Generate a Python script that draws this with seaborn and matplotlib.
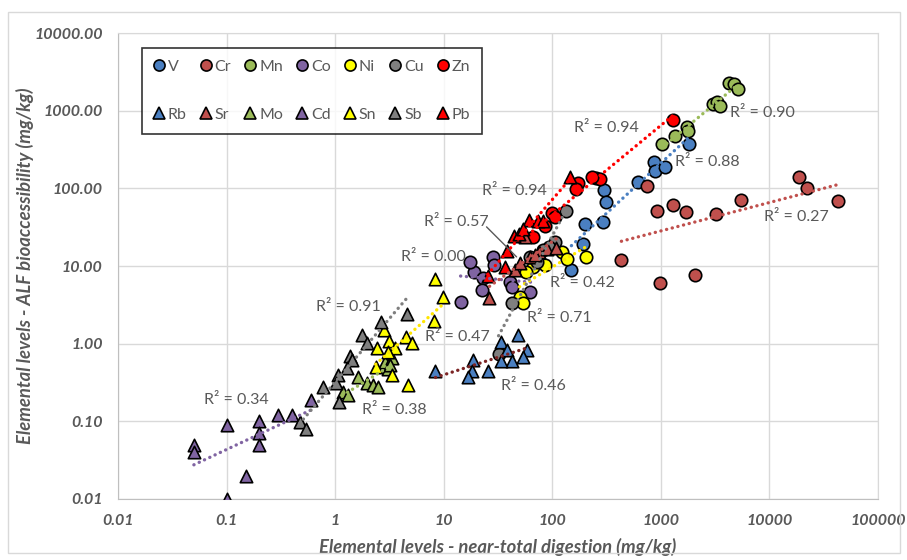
import numpy as np
import pandas as pd
import seaborn as sns
import matplotlib.pyplot as plt
from matplotlib.lines import Line2D
from matplotlib.patches import Rectangle

# near-total digestion (x) and ALF bioaccessible (y), mg/kg
v_x = [1830, 870, 890, 1100, 620, 300, 310, 200, 295, 190, 150]
v_y = [370, 220, 167, 188, 121, 95, 67, 35, 37, 19, 9]
cr_x = [751, 929, 1303, 1717, 433, 989, 2077, 3240, 5500, 18800, 22300, 43000]
cr_y = [107, 51, 61, 50, 12, 6.1, 7.7, 47, 71, 140, 101, 69]
mn_x = [4270, 4740, 5160, 3040, 3310, 3530, 1753, 1790, 1360, 1033]
mn_y = [2270, 2200, 1900, 1220, 1295, 1150, 617, 548, 472, 372]
co_x = [28.2, 28.8, 19.2, 22.8, 22.3, 14.3, 41.2, 43.0, 63.0, 17.3]
co_y = [13.1, 10.3, 8.4, 7.0, 4.9, 3.45, 6.2, 5.4, 4.6, 11.3]
ni_x = [122, 138, 206, 65.8, 56.7, 49.9, 53.2, 84.8]
ni_y = [15.2, 12.3, 13.1, 9.7, 8.4, 4.0, 3.35, 10.3]
cu_x = [135, 107, 94.2, 61.7, 71.6, 42.2, 32.0, 81.3]
cu_y = [51.2, 20.4, 17.6, 13.1, 11.3, 3.35, 0.74, 16.1]
zn_x = [1303, 255, 278, 234, 174, 167, 100, 107, 65.8, 84.8]
zn_y = [759, 136, 132, 140, 117, 98, 48, 43, 23.7, 32.8]
rb_x = [47.9, 33.4, 37.9, 57.9, 54.3, 42.2, 33.4, 18.5, 18.1, 16.9, 25.4, 8.4]
rb_y = [1.30, 1.05, 0.83, 0.83, 0.68, 0.60, 0.60, 0.61, 0.45, 0.37, 0.45, 0.45]
sr_x = [26.4, 44.9, 49.9, 61.7, 76.2, 90.3, 109, 55.5, 68.6]
sr_y = [3.9, 8.9, 11.0, 13.1, 15.2, 16.6, 17.0, 23.7, 14.0]
mo_x = [1.17, 1.61, 1.95, 2.22, 2.47, 2.86, 3.05, 3.32, 1.31, 3.18]
mo_y = [0.24, 0.37, 0.31, 0.29, 0.28, 0.58, 0.47, 0.66, 0.22, 0.53]
cd_x = [0.05, 0.05, 0.1, 0.1, 0.15, 0.2, 0.2, 0.2, 0.3, 0.4, 0.6]
cd_y = [0.05, 0.04, 0.09, 0.01, 0.02, 0.1, 0.07, 0.05, 0.12, 0.12, 0.19]
sn_x = [8.24, 9.77, 8.07, 4.46, 5.07, 2.80, 3.11, 2.41, 3.53, 3.05, 2.36, 3.32, 4.66]
sn_y = [6.8, 4.0, 1.96, 1.22, 1.02, 1.51, 1.08, 0.88, 0.88, 0.78, 0.50, 0.40, 0.29]
sb_x = [4.56, 2.63, 1.76, 1.95, 1.36, 1.42, 1.28, 1.06, 1.01, 0.77, 1.08, 0.47, 0.54]
sb_y = [2.42, 1.91, 1.30, 1.02, 0.70, 0.62, 0.49, 0.40, 0.31, 0.28, 0.18, 0.099, 0.080]
pb_x = [147, 60.4, 73.1, 81.3, 44.0, 48.9, 37.9, 36.3, 25.4, 54.3]
pb_y = [140, 39.2, 38.0, 38.0, 24.4, 25.9, 15.6, 9.7, 7.5, 30.0]

r2_text = {"V": "0.88", "Cr": "0.27", "Mn": "0.90", "Co": "0.00", "Ni": "0.42",
           "Cu": "0.71", "Zn": "0.94", "Rb": "0.46", "Sr": "0.57", "Mo": "0.38",
           "Cd": "0.34", "Sn": "0.47", "Sb": "0.91", "Pb": "0.94"}

series = [
    ("V", v_x, v_y, "o", "#4A7FC1", "#4A7FC1"),
    ("Cr", cr_x, cr_y, "o", "#C0504D", "#C0504D"),
    ("Mn", mn_x, mn_y, "o", "#9BBB59", "#9BBB59"),
    ("Co", co_x, co_y, "o", "#8064A2", "#8064A2"),
    ("Ni", ni_x, ni_y, "o", "#FFFF00", "#FFE600"),
    ("Cu", cu_x, cu_y, "o", "#7F7F7F", "#7F7F7F"),
    ("Zn", zn_x, zn_y, "o", "#FF0000", "#FF0000"),
    ("Rb", rb_x, rb_y, "^", "#4A7FC1", "#7B2424"),
    ("Sr", sr_x, sr_y, "^", "#C0504D", "#C0504D"),
    ("Mo", mo_x, mo_y, "^", "#9BBB59", "#9BBB59"),
    ("Cd", cd_x, cd_y, "^", "#8064A2", "#8064A2"),
    ("Sn", sn_x, sn_y, "^", "#FFFF00", "#FFE600"),
    ("Sb", sb_x, sb_y, "^", "#7F7F7F", "#7F7F7F"),
    ("Pb", pb_x, pb_y, "^", "#FF0000", "#FF0000"),
]

# where each R² label sits (data coords)
label_pos = {"Zn": (315, 599), "Pb": (44.9, 92.6), "Mn": (8590, 934), "V": (2680, 219),
             "Cr": (17650, 42.9), "Sr": (13.1, 37.0), "Co": (8.07, 13.1), "Ni": (190, 6.06),
             "Cu": (116, 2.15), "Sb": (1.33, 2.98), "Sn": (13.4, 1.22), "Rb": (67.2, 0.286),
             "Cd": (0.122, 0.189), "Mo": (3.53, 0.141)}

sns.set_style("white")
plt.rcParams['font.family'] = ['Lato', 'DejaVu Sans']
txt_col = "#595959"

fig = plt.figure(figsize=(9.07, 5.6), dpi=100)
fig.patches.append(Rectangle((8 / 907, 1 - 553 / 560), 892 / 907, 541 / 560,
                             transform=fig.transFigure, fill=False,
                             edgecolor="#D9D9D9", linewidth=1))
ax = fig.add_axes([118 / 907, 1 - 499 / 560, 760 / 907, 466 / 560])
ax.set_xscale("log")
ax.set_yscale("log")

for name, xs, ys, mk, col, lcol in series:
    df = pd.DataFrame({"x": xs, "y": ys})
    sns.scatterplot(data=df, x="x", y="y", marker=mk, color=col, edgecolor="black",
                    linewidth=1.2, s=80, ax=ax, zorder=3)
    # power trendline, fitted in log-log space over the data range
    lx, ly = np.log10(xs), np.log10(ys)
    b, a = np.polyfit(lx, ly, 1)
    xx = np.linspace(lx.min(), lx.max(), 50)
    ax.plot(10 ** xx, 10 ** (a + b * xx), linestyle=(0, (0.05, 1.7)), color=lcol,
            linewidth=2.4, dash_capstyle="round", zorder=4)
    px, py = label_pos[name]
    ax.text(px, py, "R² = " + r2_text[name], ha="center", va="center",
            fontsize=11.5, color=txt_col, zorder=5)

ax.plot([24.8, 46.9], [31.9, 13.1], color="#595959", linewidth=1, zorder=5)

ax.set_xlim(0.01, 100000)
ax.set_ylim(0.01, 10000)
xt = [0.01, 0.1, 1, 10, 100, 1000, 10000, 100000]
yt = [0.01, 0.1, 1, 10, 100, 1000, 10000]
ax.set_xticks(xt)
ax.set_xticklabels(["0.01", "0.1", "1", "10", "100", "1000", "10000", "100000"])
ax.set_yticks(yt)
ax.set_yticklabels([f"{v:.2f}" for v in yt])
ax.minorticks_off()
ax.tick_params(length=0, labelsize=11.5, labelcolor=txt_col, pad=11)
for lab in ax.get_xticklabels() + ax.get_yticklabels():
    lab.set_fontweight("bold")
    lab.set_fontstyle("italic")
ax.grid(True, which="major", color="#D9D9D9", linewidth=1)
for sp in ax.spines.values():
    sp.set_color("#D9D9D9")
ax.spines["left"].set_color("#BFBFBF")
ax.spines["bottom"].set_color("#BFBFBF")

ax.set_xlabel("Elemental levels - near-total digestion (mg/kg)", fontsize=13.3,
              fontweight="bold", fontstyle="italic", color=txt_col, labelpad=7)
ax.set_ylabel("Elemental levels - ALF bioaccessibility (mg/kg)", fontsize=13.3,
              fontweight="bold", fontstyle="italic", color=txt_col, labelpad=0)

# legend: circles on the first row, triangles on the second
order = ["V", "Rb", "Cr", "Sr", "Mn", "Mo", "Co", "Cd", "Ni", "Sn", "Cu", "Sb", "Zn", "Pb"]
info = {s[0]: s for s in series}
handles = [Line2D([], [], linestyle="none", marker=info[n][3], markersize=8,
                  markerfacecolor=info[n][4], markeredgecolor="black",
                  markeredgewidth=1.2, label=n) for n in order]
leg = ax.legend(handles=handles, ncol=7, loc="upper left",
                bbox_to_anchor=(0.032, 0.968), frameon=True, fancybox=False,
                edgecolor="black", fontsize=11.5, handlelength=0.6,
                handletextpad=0.25, columnspacing=0.9, labelspacing=2.1,
                borderpad=0.75, borderaxespad=0)
leg.get_frame().set_linewidth(1.2)
for t in leg.get_texts():
    t.set_color(txt_col)

fig.savefig("out.png", dpi=100)
